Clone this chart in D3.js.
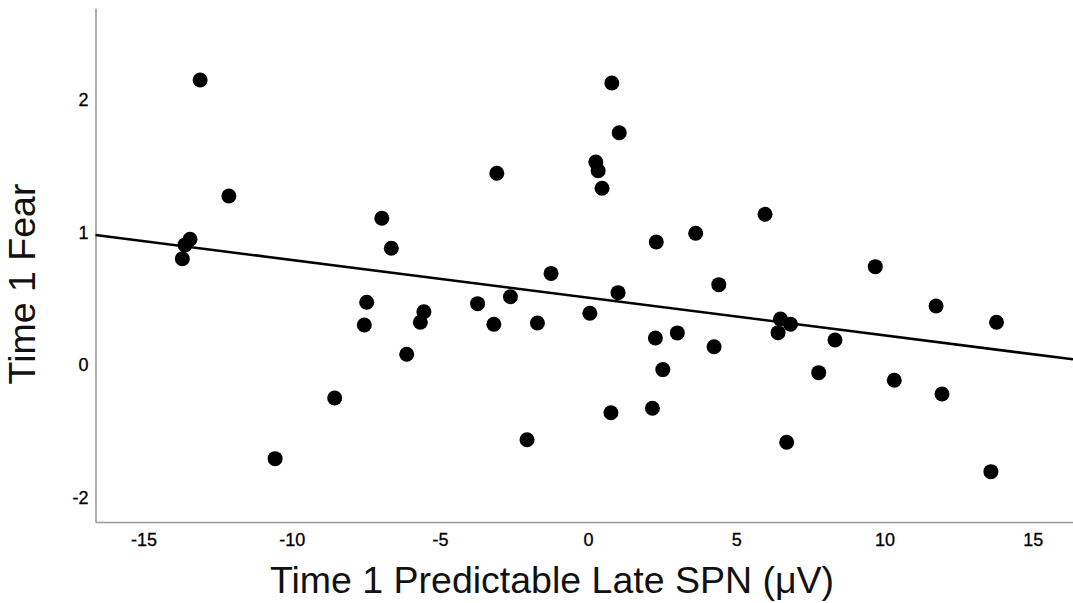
<!DOCTYPE html>
<html>
<head>
<meta charset="utf-8">
<script src="https://cdn.jsdelivr.net/npm/d3@7"></script>
<style>
  html, body { margin: 0; padding: 0; background: #fff; }
  svg { display: block; }
</style>
</head>
<body>
<div id="chart"></div>
<script>
// SPN value (x) and fear score (y) for each participant
const spn = [
  -13.09, 0.80, 1.05, 0.26, 0.34, 0.47, -3.08, -12.12, 5.97, -6.96,
  3.63, 2.30, -6.64, -13.69, -13.60, -13.43, -1.25, 4.41, 1.01, -7.47,
  -3.73, -2.62, -5.54, -5.66, -7.55, -3.18, -1.71, 0.06, 2.27, 3.01,
  4.25, 6.49, 6.83, 6.41, 8.33, 9.69, 11.74, 13.78, -6.12, 2.52,
  7.78, 10.33, 11.94, -8.55, 0.77, 2.17, -2.06, 6.70, -10.56, 13.59
];
const fear = [
  2.151, 2.128, 1.753, 1.532, 1.466, 1.334, 1.447, 1.275, 1.137, 1.107,
  0.994, 0.928, 0.881, 0.802, 0.906, 0.949, 0.691, 0.606, 0.546, 0.473,
  0.463, 0.515, 0.402, 0.322, 0.302, 0.307, 0.317, 0.390, 0.204, 0.242,
  0.138, 0.347, 0.307, 0.244, 0.189, 0.742, 0.445, 0.322, 0.081, -0.035,
  -0.058, -0.115, -0.219, -0.249, -0.360, -0.327, -0.564, -0.583, -0.707, -0.805
];

// fit line (intercept, slope)
const fitIntercept = 0.508;
const fitSlope = -0.02844;

const xTicks = [-15, -10, -5, 0, 5, 10, 15];
const xTickLabels = ["-15", "-10", "-5", "0", "5", "10", "15"];
const yTicks = [2, 1, 0, -1];
const yTickLabels = ["2", "1", "0", "-2"]; // as printed on the original

const width = 1073, height = 603;
const margin = { top: 8, right: 0, bottom: 81, left: 95.5 };

const svg = d3.select("#chart")
  .append("svg")
  .attr("width", width)
  .attr("height", height);

const x = d3.scaleLinear()
  .domain([-16.62, 16.36])
  .range([margin.left, width - margin.right]);

const y = d3.scaleLinear()
  .domain([-1.185, 2.694])
  .range([height - margin.bottom, margin.top]);

// axes
const xAxis = svg.append("g")
  .attr("transform", `translate(0,${height - margin.bottom})`)
  .call(d3.axisBottom(x).tickValues(xTicks).tickSize(0).tickPadding(11)
    .tickFormat((d, i) => xTickLabels[i]));

const yAxis = svg.append("g")
  .attr("transform", `translate(${margin.left},0)`)
  .call(d3.axisLeft(y).tickValues(yTicks).tickSize(0).tickPadding(7)
    .tickFormat((d, i) => yTickLabels[i]));

[xAxis, yAxis].forEach(g => {
  g.select(".domain").attr("stroke", "#999").attr("stroke-width", 1.6);
  g.selectAll("text")
    .attr("fill", "#000")
    .attr("font-family", "Liberation Sans, Arial, sans-serif")
    .attr("font-size", "18px")
    .attr("stroke", "#000")
    .attr("stroke-width", 0.3);
});
xAxis.selectAll("text").attr("dy", "0.71em");

// regression line
const xs = x.domain();
svg.append("line")
  .attr("x1", x(xs[0]))
  .attr("y1", y(fitIntercept + fitSlope * xs[0]))
  .attr("x2", x(xs[1]))
  .attr("y2", y(fitIntercept + fitSlope * xs[1]))
  .attr("stroke", "#000")
  .attr("stroke-width", 2.6);

// points
svg.append("g")
  .selectAll("circle")
  .data(d3.zip(spn, fear))
  .enter()
  .append("circle")
  .attr("cx", d => x(d[0]))
  .attr("cy", d => y(d[1]))
  .attr("r", 7.5)
  .attr("fill", "#000");

// axis titles
svg.append("text")
  .attr("x", 552)
  .attr("y", 593)
  .attr("text-anchor", "middle")
  .attr("font-family", "Liberation Sans, Arial, sans-serif")
  .attr("font-size", "37.5px")
  .attr("fill", "#111")
  .text("Time 1 Predictable Late SPN (μV)");

svg.append("text")
  .attr("transform", "translate(35,284) rotate(-90)")
  .attr("text-anchor", "middle")
  .attr("font-family", "Liberation Sans, Arial, sans-serif")
  .attr("font-size", "37.5px")
  .attr("fill", "#111")
  .text("Time 1 Fear");
</script>
</body>
</html>
